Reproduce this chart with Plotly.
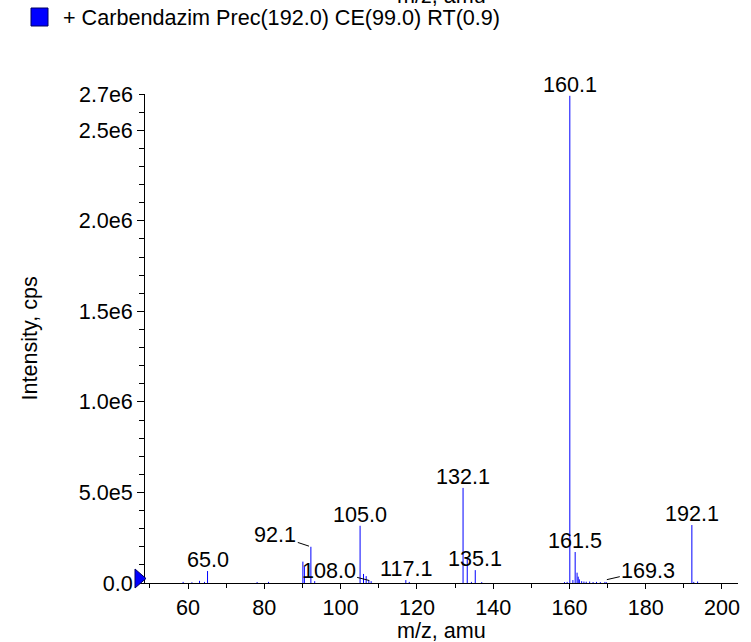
import plotly.graph_objects as go

# ---- data ----
mz = [58.7, 61.0, 63.0, 64.3, 65.1, 78.1, 81.1, 90.1, 90.5, 92.2, 93.2,
      105.1, 106.0, 106.7, 107.4, 108.0, 117.1, 118.0,
      132.1, 133.2, 134.3, 135.3, 137.0,
      158.7, 159.4, 160.1, 160.9, 161.5, 162.0, 162.3, 162.6, 163.2, 163.8,
      164.4, 165.3, 166.2, 167.1, 168.1, 169.3, 169.7,
      192.1, 192.6, 193.6]
intensity = [6e3, 4e3, 1.2e4, 6e3, 6.6e4, 5e3, 6e3, 1.18e5, 9e4, 2.0e5, 1.0e4,
             3.16e5, 5.0e4, 3.8e4, 1.6e4, 1.0e4, 1.6e4, 6e3,
             5.25e5, 1.36e5, 6e3, 7.1e4, 5e3,
             5e3, 6e3, 2.69e6, 1.6e4, 1.71e5, 5.7e4, 3.5e4, 2.0e4, 1.0e4, 8e3,
             7e3, 8e3, 5e3, 6e3, 5e3, 6e3, 4e3,
             3.2e5, 6e3, 8e3]

# labelled peaks placed directly above their sticks
plain_labels = ["65.0", "105.0", "117.1", "132.1", "135.1", "160.1", "161.5", "192.1"]
plain_x = [65.1, 105.1, 117.1, 132.1, 135.3, 160.1, 161.5, 192.1]
plain_y = [6.6e4, 3.16e5, 1.6e4, 5.25e5, 7.1e4, 2.69e6, 1.71e5, 3.2e5]

# labels with leader lines
lead_labels = ["92.1", "108.0", "169.3"]
lead_x = [92.2, 108.0, 169.3]
lead_y = [2.0e5, 1.1e4, 1.6e4]
lead_ax = [-35.6, -42.5, 43.4]
lead_ay = [-11.8, -11.0, -10.0]

y_tickvals = [0, 5e5, 1e6, 1.5e6, 2e6, 2.5e6]
y_ticktext = ["0.0", "5.0e5", "1.0e6", "1.5e6", "2.0e6", "2.5e6"]
y_top = 2.7e6
y_top_text = "2.7e6"
x_range = [48.7, 204.2]

legend_text = "+ Carbendazim Prec(192.0) CE(99.0) RT(0.9)"
x_title = "m/z, amu"
y_title = "Intensity, cps"

FONT = "Liberation Sans, Arial, Helvetica, sans-serif"
FS = 21.6

# build stick coordinates
xs, ys = [], []
for m, v in zip(mz, intensity):
    xs += [m, m, None]
    ys += [0, v, None]

fig = go.Figure()
fig.add_trace(go.Scatter(x=xs, y=ys, mode="lines",
                         line=dict(color="#0000ff", width=1),
                         hoverinfo="skip", showlegend=False))

W, H = 751, 642
L, R, T, B = 145, 13, 94, 59
pw, ph = W - L - R, H - T - B

def px2paper(px, py):
    return (px - L) / pw, (H - B - py) / ph

annotations = []
for t, x, y in zip(plain_labels, plain_x, plain_y):
    annotations.append(dict(x=x, y=y, xref="x", yref="y", text=t, showarrow=False,
                            yanchor="bottom", xanchor="center", yshift=-3,
                            font=dict(family=FONT, size=FS, color="black")))
for t, x, y, ax, ay in zip(lead_labels, lead_x, lead_y, lead_ax, lead_ay):
    annotations.append(dict(x=x, y=y, xref="x", yref="y", text=t, showarrow=True,
                            arrowhead=0, arrowwidth=1, arrowcolor="black",
                            ax=ax, ay=ay, axref="pixel", ayref="pixel", standoff=2,
                            font=dict(family=FONT, size=FS, color="black")))

# top y label
annotations.append(dict(x=0, y=y_top, xref="paper", yref="y", text=y_top_text,
                        showarrow=False, xanchor="right", yanchor="middle", xshift=-10,
                        font=dict(family=FONT, size=FS, color="black")))
# axis titles
ax_, ay_ = px2paper(441.5, 630)
annotations.append(dict(x=0.5, y=ay_, xref="paper", yref="paper", text=x_title,
                        showarrow=False, xanchor="center", yanchor="middle",
                        font=dict(family=FONT, size=FS, color="black")))
ax_, ay_ = px2paper(29, 338.5)
annotations.append(dict(x=ax_, y=ay_, xref="paper", yref="paper", text=y_title,
                        showarrow=False, xanchor="center", yanchor="middle", textangle=-90,
                        font=dict(family=FONT, size=FS, color="black")))
# legend text
lx, ly = px2paper(61, 18)
annotations.append(dict(x=lx, y=ly, xref="paper", yref="paper", text=legend_text,
                        showarrow=False, xanchor="left", yanchor="middle",
                        font=dict(family=FONT, size=FS, color="black")))
# clipped title of the panel above
tx, ty = px2paper(441.5, -4.5)
annotations.append(dict(x=0.5, y=ty, xref="paper", yref="paper", text=x_title,
                        showarrow=False, xanchor="center", yanchor="middle",
                        font=dict(family=FONT, size=FS, color="black")))

shapes = []
# legend square
x0, y0 = px2paper(31, 26)
x1, y1 = px2paper(48, 8)
shapes.append(dict(type="rect", xref="paper", yref="paper", x0=x0, y0=y0, x1=x1, y1=y1,
                   fillcolor="#0000ff", line=dict(color="#000060", width=1)))
# blue triangle marker at baseline
p1 = px2paper(135, 569)
p2 = px2paper(146, 578.5)
p3 = px2paper(135, 588)
shapes.append(dict(type="path", xref="paper", yref="paper",
                   path=f"M {p1[0]} {p1[1]} L {p2[0]} {p2[1]} L {p3[0]} {p3[1]} Z",
                   fillcolor="#0000ff", line=dict(color="#000060", width=1)))

fig.update_layout(
    width=W, height=H,
    margin=dict(l=L, r=R, t=T, b=B, pad=0),
    paper_bgcolor="white", plot_bgcolor="white",
    font=dict(family=FONT, size=FS, color="black"),
    showlegend=False,
    annotations=annotations,
    shapes=shapes,
    xaxis=dict(range=x_range, showgrid=False, zeroline=False,
               showline=True, linecolor="black", linewidth=1,
               ticks="outside", ticklen=5, tickcolor="black", tickwidth=1,
               tickmode="linear", tick0=0, dtick=20,
               minor=dict(ticks="outside", ticklen=4, tickcolor="black",
                          tickmode="linear", tick0=0, dtick=10),
               tickfont=dict(family=FONT, size=FS, color="black"),
               fixedrange=True),
    yaxis=dict(range=[0, y_top], showgrid=False, zeroline=False,
               showline=True, linecolor="black", linewidth=1,
               ticks="outside", ticklen=7, tickcolor="black", tickwidth=1,
               tickmode="array", tickvals=y_tickvals, ticktext=y_ticktext,
               minor=dict(ticks="outside", ticklen=5, tickcolor="black",
                          tickmode="linear", tick0=0, dtick=1e5),
               tickfont=dict(family=FONT, size=FS, color="black"),
               fixedrange=True),
)

fig.write_html("out.html", config={"displayModeBar": False},
               post_script="document.body.style.margin='0px';document.body.style.overflow='hidden';")
